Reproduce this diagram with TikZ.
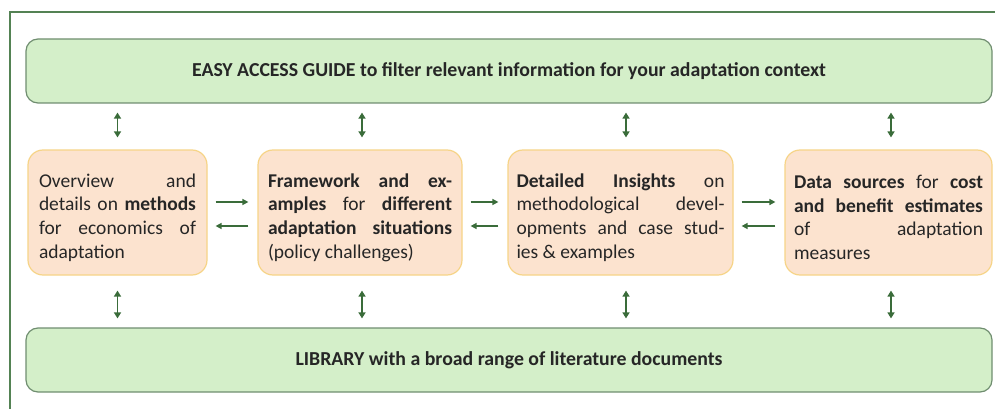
\documentclass[tikz,border=0pt]{standalone}
\usepackage{fontspec}
\setmainfont{Carlito}
\usetikzlibrary{arrows.meta}
\definecolor{gfill}{RGB}{212,239,201}
\definecolor{gdraw}{RGB}{112,142,112}
\definecolor{ofill}{RGB}{252,227,207}
\definecolor{odraw}{RGB}{246,212,135}
\definecolor{frame}{RGB}{84,130,84}
\definecolor{arr}{RGB}{58,108,58}
\definecolor{txt}{RGB}{38,38,38}
\newcommand\jl[1]{\makebox[\linewidth][s]{#1}\\}
\tikzset{
  greenbox/.style={draw=gdraw, fill=gfill, line width=1.2pt, rounded corners=12pt,
    minimum width=966pt, minimum height=64pt, inner sep=0pt,
    font=\fontsize{19.8}{22}\selectfont\bfseries, text=txt},
  midbox/.style={draw=odraw, fill=ofill, line width=1.2pt, rounded corners=15pt,
    minimum height=125pt, inner sep=0pt, text=txt,
    font=\fontsize{19.5}{23.7}\selectfont},
  varrow/.style={draw=arr, line width=1.8pt, {Triangle[length=6pt,width=7pt]}-{Triangle[length=6pt,width=7pt]}},
  harrow/.style={draw=arr, line width=1.6pt, -{Triangle[length=6pt,width=6pt]}},
}
\begin{document}
\begin{tikzpicture}[x=1pt,y=-1pt]
\useasboundingbox (0,0) rectangle (995,409);
\draw[frame, line width=2.2pt] (997,12) -- (10,12) -- (10,411);

\node[greenbox] (guide) at (509,71) {EASY ACCESS GUIDE to filter relevant information for your adaptation context};
\node[greenbox] (lib) at (509,360) {LIBRARY with a broad range of literature documents};

\node[midbox, minimum width=179pt] (b1) at (117.5,212.5) {\parbox{157pt}{\vspace*{10pt}%
\jl{Overview and}\jl{details on \textbf{methods}}\jl{for economics of}adaptation}};
\node[midbox, minimum width=204pt] (b2) at (360,212.5) {\parbox{184pt}{\vspace*{10pt}%
\jl{\textbf{Framework and ex-}}\jl{\textbf{amples} for \textbf{different}}\jl{\textbf{adaptation situations}}(policy challenges)}};
\node[midbox, minimum width=225pt] (b3) at (620.5,212.5) {\parbox{208pt}{\vspace*{10pt}%
\jl{\textbf{Detailed Insights} on}\jl{methodological devel-}\jl{opments and case stud-}ies \& examples}};
\node[midbox, minimum width=207pt] (b4) at (888.5,212.5) {\parbox{189pt}{\vspace*{10pt}%
\jl{\textbf{Data sources} for \textbf{cost}}\jl{\textbf{and benefit estimates}}\jl{of adaptation}measures}};

% vertical double arrows
\foreach \b/\dx in {b1/0,b2/2,b3/5.5,b4/2.5}{
  \draw[varrow, shorten <=9pt, shorten >=12pt] ([xshift=\dx pt]guide.south -| \b.north) -- ([xshift=\dx pt]\b.north);
  \draw[varrow, shorten <=15pt, shorten >=9pt] ([xshift=\dx pt]\b.south) -- ([xshift=\dx pt]lib.north -| \b.south);
}
% horizontal arrows
\foreach \a/\c in {b1/b2,b2/b3,b3/b4}{
  \draw[harrow, shorten <=8pt, shorten >=9pt] ([yshift=10.5pt]\a.east) -- ([yshift=10.5pt]\c.west);
  \draw[harrow, shorten <=9pt, shorten >=8pt] ([yshift=-13.5pt]\c.west) -- ([yshift=-13.5pt]\a.east);
}
\end{tikzpicture}
\end{document}
